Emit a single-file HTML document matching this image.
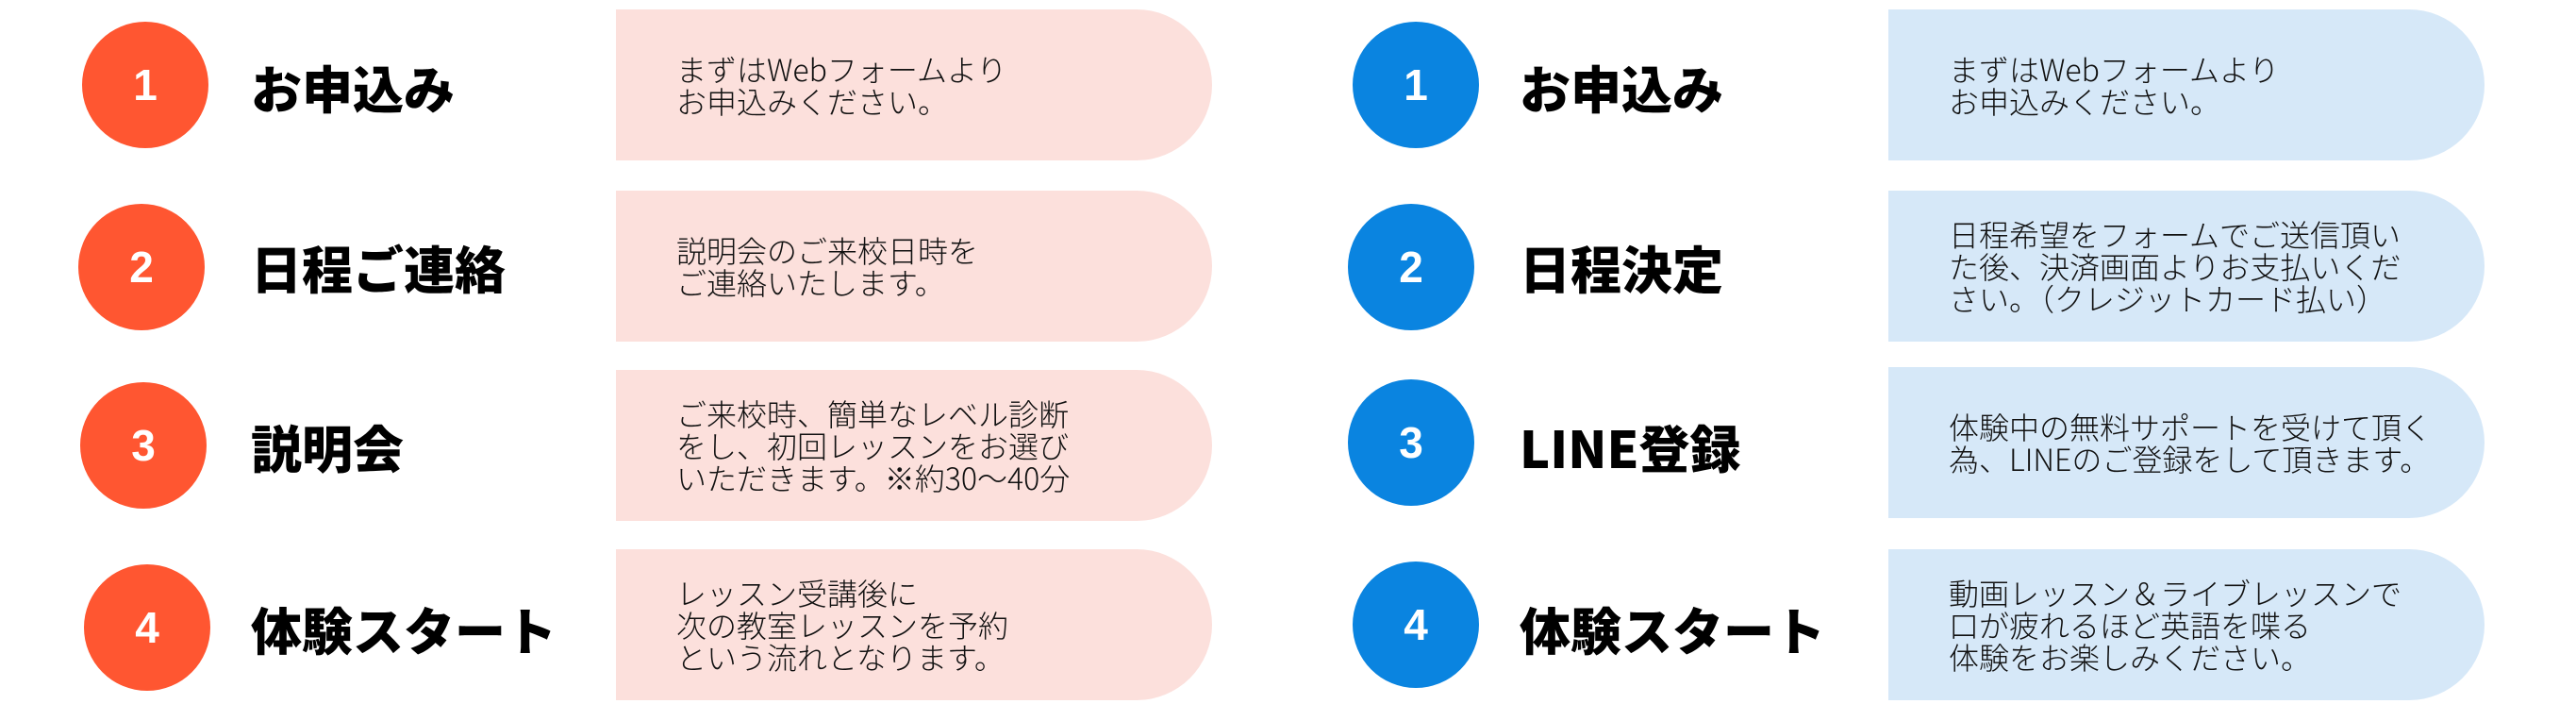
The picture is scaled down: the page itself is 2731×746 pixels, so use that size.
<!DOCTYPE html>
<html><head><meta charset="utf-8"><style>
body{margin:0;width:2731px;height:746px;background:#fff;position:relative;overflow:hidden;font-family:"Liberation Sans","Noto Sans CJK JP",sans-serif}
.c{position:absolute;width:134px;height:134px;border-radius:50%;color:#fff;font-weight:bold;font-size:46px;display:flex;align-items:center;justify-content:center}
.o{background:#FF5631}.b{background:#0A84E0}
.t{position:absolute;font-weight:900;font-size:54px;color:#000;line-height:60px;font-family:"Noto Sans CJK JP",sans-serif}
.x{position:absolute;height:160px;border-radius:0 82px 82px 0;display:flex;align-items:center;box-sizing:border-box;font-size:32px;line-height:34px;color:#111;font-family:"Noto Sans CJK JP",sans-serif;font-weight:300;white-space:nowrap}
.p{background:#FCE0DC;left:653px;width:632px;padding-left:64px}
.l{background:#D6E8F8;left:2002px;width:632px;padding-left:64px}
</style></head><body>
<div class="c o" style="left:87px;top:23px">1</div>
<div class="c o" style="left:83px;top:216px">2</div>
<div class="c o" style="left:85px;top:405px">3</div>
<div class="c o" style="left:89px;top:598px">4</div>
<div class="t" style="left:266px;top:62px">お申込み</div>
<div class="t" style="left:266px;top:253px">日程ご連絡</div>
<div class="t" style="left:266px;top:443px">説明会</div>
<div class="t" style="left:266px;top:636px">体験スタート</div>
<div class="x p" style="top:10px"><div>まずはWebフォームより<br>お申込みください。</div></div>
<div class="x p" style="top:202px"><div>説明会のご来校日時を<br>ご連絡いたします。</div></div>
<div class="x p" style="top:392px"><div>ご来校時、簡単なレベル診断<br>をし、初回レッスンをお選び<br>いただきます。※約30〜40分</div></div>
<div class="x p" style="top:582px"><div>レッスン受講後に<br>次の教室レッスンを予約<br>という流れとなります。</div></div>

<div class="c b" style="left:1434px;top:23px">1</div>
<div class="c b" style="left:1429px;top:216px">2</div>
<div class="c b" style="left:1429px;top:402px">3</div>
<div class="c b" style="left:1434px;top:595px">4</div>
<div class="t" style="left:1611px;top:62px">お申込み</div>
<div class="t" style="left:1611px;top:253px">日程決定</div>
<div class="t" style="left:1611px;top:443px">LINE登録</div>
<div class="t" style="left:1611px;top:636px">体験スタート</div>
<div class="x l" style="top:10px"><div>まずはWebフォームより<br>お申込みください。</div></div>
<div class="x l" style="top:202px"><div>日程希望をフォームでご送信頂い<br>た後、決済画面よりお支払いくだ<br>さい。（クレジットカード払い）</div></div>
<div class="x l" style="top:389px"><div>体験中の無料サポートを受けて頂く<br>為、LINEのご登録をして頂きます。</div></div>
<div class="x l" style="top:582px"><div>動画レッスン＆ライブレッスンで<br>口が疲れるほど英語を喋る<br>体験をお楽しみください。</div></div>
</body></html>
